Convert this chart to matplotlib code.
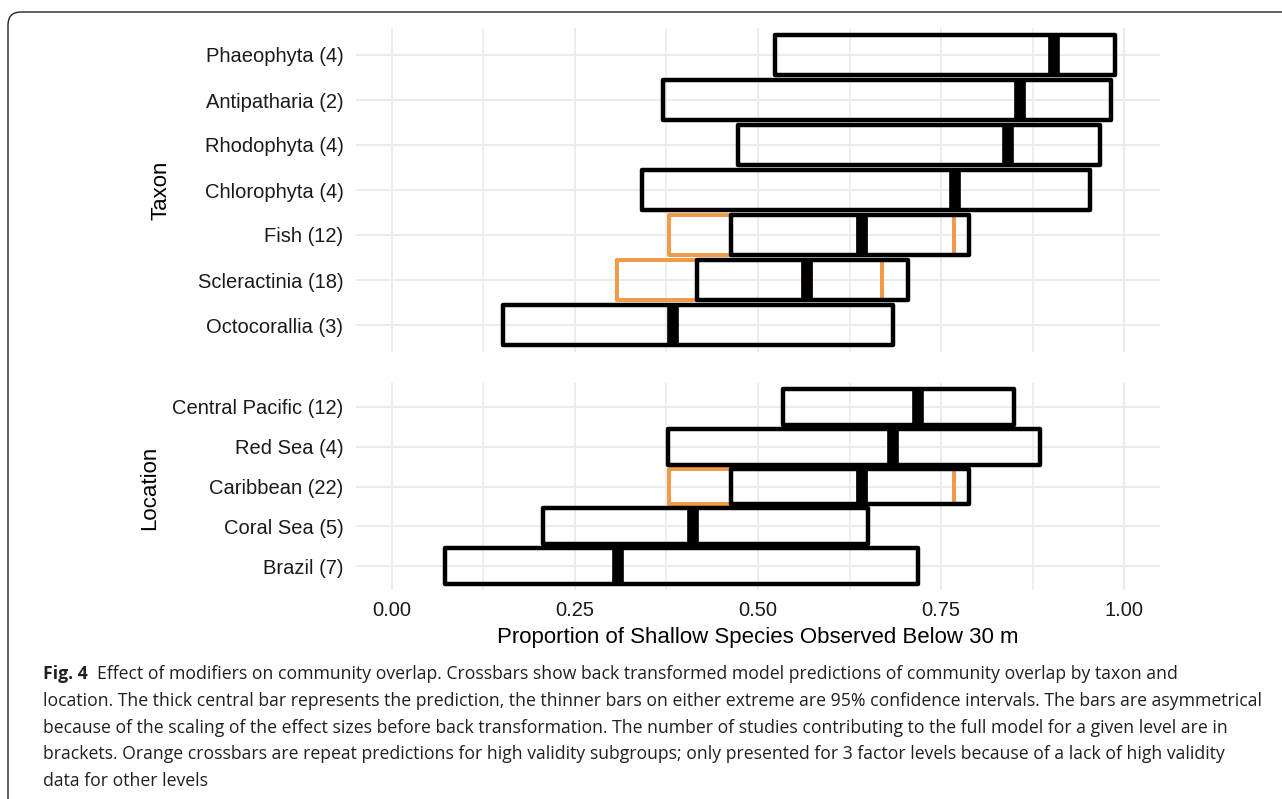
import os
import numpy as np
import matplotlib
matplotlib.use("Agg")
import matplotlib.pyplot as plt
from matplotlib import font_manager as fm
from matplotlib.patches import FancyBboxPatch
from matplotlib.transforms import IdentityTransform

# ---------------- data ----------------
taxa = ["Octocorallia (3)", "Scleractinia (18)", "Fish (12)", "Chlorophyta (4)",
        "Rhodophyta (4)", "Antipatharia (2)", "Phaeophyta (4)"]
taxa_lower = [0.152, 0.417, 0.463, 0.342, 0.473, 0.370, 0.523]
taxa_pred = [0.384, 0.567, 0.642, 0.769, 0.842, 0.858, 0.904]
taxa_upper = [0.684, 0.705, 0.788, 0.954, 0.967, 0.982, 0.988]

hv_taxa = ["Scleractinia (18)", "Fish (12)"]
hv_taxa_lower = [0.307, 0.378]
hv_taxa_pred = [0.567, 0.642]
hv_taxa_upper = [0.669, 0.768]

locations = ["Brazil (7)", "Coral Sea (5)", "Caribbean (22)", "Red Sea (4)",
             "Central Pacific (12)"]
loc_lower = [0.073, 0.207, 0.463, 0.377, 0.534]
loc_pred = [0.309, 0.411, 0.642, 0.684, 0.719]
loc_upper = [0.719, 0.650, 0.788, 0.885, 0.850]

hv_loc = ["Caribbean (22)"]
hv_loc_lower = [0.378]
hv_loc_pred = [0.642]
hv_loc_upper = [0.768]

x_ticks = [0.0, 0.25, 0.5, 0.75, 1.0]
x_ticklabels = ["0.00", "0.25", "0.50", "0.75", "1.00"]
x_minor = [0.125, 0.375, 0.625, 0.875]

xlabel = "Proportion of Shallow Species Observed Below 30 m"
caption_bold = "Fig. 4"
caption_lines = [
    "Effect of modifiers on community overlap. Crossbars show back transformed model predictions of community overlap by taxon and",
    "location. The thick central bar represents the prediction, the thinner bars on either extreme are 95% confidence intervals. The bars are asymmetrical",
    "because of the scaling of the effect sizes before back transformation. The number of studies contributing to the full model for a given level are in",
    "brackets. Orange crossbars are repeat predictions for high validity subgroups; only presented for 3 factor levels because of a lack of high validity",
    "data for other levels",
]

BLACK = "#000000"
ORANGE = "#EF9B47"
GRID = "#EBEBEB"
W, H = 1282, 799

# ---------------- fonts ----------------
plt.rcParams["font.family"] = ["Liberation Sans", "DejaVu Sans"]


def _w(f):
    w = f.weight
    if isinstance(w, str):
        w = fm.weight_dict.get(w, 400)
    return int(w)


def pick_font(families, bold):
    for fam in families:
        for f in fm.fontManager.ttflist:
            if f.name != fam or f.style != "normal":
                continue
            w = _w(f)
            if bold and w >= 700:
                return fam, fm.FontProperties(fname=f.fname)
            if not bold and 380 <= w <= 420:
                return fam, fm.FontProperties(fname=f.fname)
    return None, None


cap_families = ["Liberation Sans Narrow", "Open Sans", "Noto Sans", "Lato", "Liberation Sans"]
fam_r, cap_reg = pick_font(cap_families, False)
# bold from the same family if possible
fam_b, cap_bold = pick_font(([fam_r] if fam_r else []) + cap_families, True)
if cap_reg is None:
    cap_reg = fm.FontProperties(family=["DejaVu Sans"])
if cap_bold is None:
    cap_bold = fm.FontProperties(family=["DejaVu Sans"], weight="bold")

fig = plt.figure(figsize=(W / 100, H / 100), dpi=100)
fig.patch.set_facecolor("white")


def px_axes(x0, y0, x1, y1):
    return fig.add_axes([x0 / W, 1 - y1 / H, (x1 - x0) / W, (y1 - y0) / H])


ax_top = px_axes(356, 28, 1160, 352)
ax_bot = px_axes(356, 383, 1160, 590)

LW = 3.2
FAT = 8.4


def crossbar(ax, cats, names, lo, mid, hi, color, lw, z):
    pos = np.array([cats.index(n) + 1 for n in names], dtype=float)
    lo = np.array(lo)
    hi = np.array(hi)
    bars = ax.barh(pos, hi - lo, left=lo, height=0.9, fill=False,
                   edgecolor=color, linewidth=lw, zorder=z)
    for b in bars:
        b.set_joinstyle("round")
    ax.vlines(mid, pos - 0.45, pos + 0.45, colors=color, linewidth=FAT,
              zorder=z, capstyle="butt")


def style(ax, cats, show_x):
    ax.set_xlim(-0.049, 1.049)
    ax.set_ylim(0.4, len(cats) + 0.6)
    ax.set_yticks(np.arange(1, len(cats) + 1))
    ax.set_yticklabels(cats, fontsize=14.5, color="#1a1a1a")
    ax.set_xticks(x_ticks)
    ax.set_xticks(x_minor, minor=True)
    if show_x:
        ax.set_xticklabels(x_ticklabels, fontsize=14.5, color="#1a1a1a")
    else:
        ax.set_xticklabels([])
    ax.tick_params(axis="both", which="both", length=0)
    ax.tick_params(axis="y", pad=9)
    ax.tick_params(axis="x", pad=8)
    for s in ax.spines.values():
        s.set_visible(False)
    ax.set_axisbelow(True)
    ax.grid(which="major", color=GRID, linewidth=1.4, zorder=0)
    ax.grid(which="minor", axis="x", color=GRID, linewidth=1.1, zorder=0)
    ax.set_facecolor("none")


crossbar(ax_top, taxa, hv_taxa, hv_taxa_lower, hv_taxa_pred, hv_taxa_upper, ORANGE, LW * 0.9, 2)
crossbar(ax_top, taxa, taxa, taxa_lower, taxa_pred, taxa_upper, BLACK, LW, 3)
style(ax_top, taxa, False)

crossbar(ax_bot, locations, hv_loc, hv_loc_lower, hv_loc_pred, hv_loc_upper, ORANGE, LW * 0.9, 2)
crossbar(ax_bot, locations, locations, loc_lower, loc_pred, loc_upper, BLACK, LW, 3)
style(ax_bot, locations, True)

fig.text(161 / W, 1 - 190 / H, "Taxon", rotation=90, ha="center", va="center",
         fontsize=16, color="black")
fig.text(150 / W, 1 - 488 / H, "Location", rotation=90, ha="center", va="center",
         fontsize=16, color="black")
fig.text(758 / W, 1 - 637 / H, xlabel, ha="center", va="center", fontsize=16, color="black")

# ---------------- caption ----------------
fig.canvas.draw()
renderer = fig.canvas.get_renderer()
probe = fig.text(0, 0, caption_lines[1], fontproperties=cap_reg, fontsize=14)
w_probe = probe.get_window_extent(renderer).width
probe.remove()
cap_size = 14 * (1268 - 43) / w_probe

line_y = [674, 701, 728, 754, 781]
tb = fig.text(43 / W, 1 - line_y[0] / H, caption_bold, fontproperties=cap_bold,
              fontsize=cap_size, ha="left", va="center", color="#231f20")
wb = tb.get_window_extent(renderer).width
fig.text((43 + wb + 9) / W, 1 - line_y[0] / H, caption_lines[0], fontproperties=cap_reg,
         fontsize=cap_size, ha="left", va="center", color="#231f20")
for yy, line in zip(line_y[1:], caption_lines[1:]):
    fig.text(43 / W, 1 - yy / H, line, fontproperties=cap_reg, fontsize=cap_size,
             ha="left", va="center", color="#231f20")

# ---------------- rounded frame ----------------
frame = FancyBboxPatch((8, -60), 1400, (H - 12) + 60,
                       boxstyle="round,pad=0,rounding_size=13",
                       transform=IdentityTransform(), fill=False,
                       edgecolor="#222222", linewidth=1.0)
fig.add_artist(frame)

fig.savefig("out.png", dpi=100, facecolor="white")
